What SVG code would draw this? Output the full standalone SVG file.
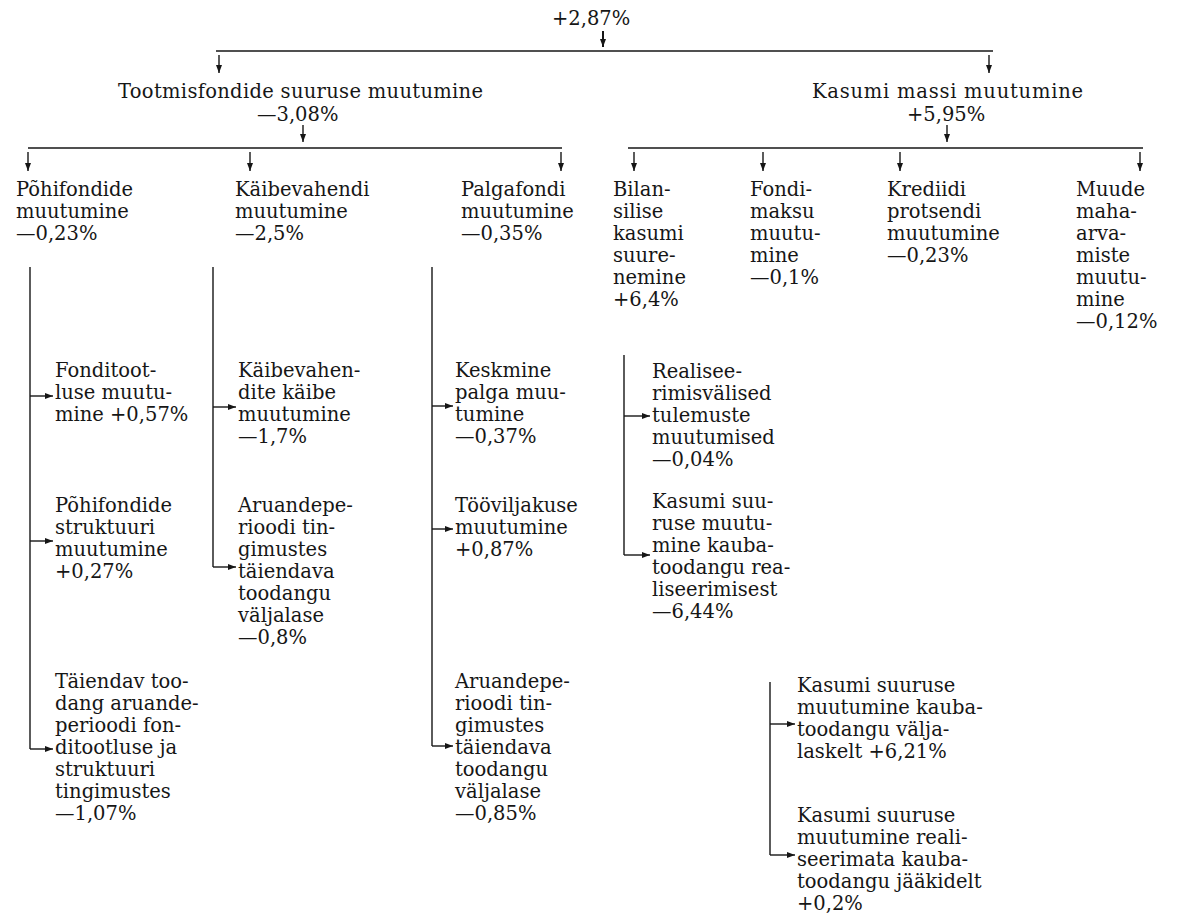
<svg xmlns="http://www.w3.org/2000/svg" width="1180" height="918" viewBox="0 0 1180 918">
<defs>
<style>
text{font-family:"DejaVu Serif","Liberation Serif",serif;font-size:19.5px;fill:#161616}
.c line{stroke:#161616;stroke-width:1.4;fill:none}
.c .a{marker-end:url(#ah)}
</style>
<marker id="ah" markerUnits="userSpaceOnUse" markerWidth="8" markerHeight="6" refX="8" refY="3" orient="auto">
<path d="M0,0 L8,3 L0,6 z" fill="#161616"/>
</marker>
</defs>
<rect width="1180" height="918" fill="#fff"/>
<g class="c" id="connectors">
<line class="a" x1="603" y1="31" x2="603" y2="47" style="stroke-width:2"/>
<line x1="216" y1="51" x2="993" y2="51"/>
<line class="a" x1="219" y1="55" x2="219" y2="73"/>
<line class="a" x1="989" y1="55" x2="989" y2="73"/>
<line class="a" x1="303" y1="125" x2="303" y2="142"/>
<line x1="28" y1="148" x2="562" y2="148"/>
<line class="a" x1="28" y1="152" x2="28" y2="171"/>
<line class="a" x1="250" y1="152" x2="250" y2="171"/>
<line class="a" x1="561" y1="152" x2="561" y2="171"/>
<line class="a" x1="947" y1="125" x2="947" y2="142"/>
<line x1="628" y1="148" x2="1143" y2="148"/>
<line class="a" x1="634" y1="152" x2="634" y2="171"/>
<line class="a" x1="763" y1="152" x2="763" y2="171"/>
<line class="a" x1="900" y1="152" x2="900" y2="171"/>
<line class="a" x1="1140" y1="152" x2="1140" y2="171"/>
<line x1="30" y1="267" x2="30" y2="749"/>
<line class="a" x1="30" y1="396" x2="53" y2="396"/>
<line class="a" x1="30" y1="541" x2="53" y2="541"/>
<line class="a" x1="30" y1="749" x2="53" y2="749"/>
<line x1="213" y1="267" x2="213" y2="567"/>
<line class="a" x1="213" y1="407" x2="236" y2="407"/>
<line class="a" x1="213" y1="567" x2="236" y2="567"/>
<line x1="432" y1="267" x2="432" y2="746"/>
<line class="a" x1="432" y1="406" x2="453" y2="406"/>
<line class="a" x1="432" y1="529" x2="453" y2="529"/>
<line class="a" x1="432" y1="746" x2="453" y2="746"/>
<line x1="624" y1="355" x2="624" y2="555"/>
<line class="a" x1="624" y1="416" x2="650" y2="416"/>
<line class="a" x1="624" y1="555" x2="650" y2="555"/>
<line x1="770" y1="682" x2="770" y2="855"/>
<line class="a" x1="770" y1="724" x2="795" y2="724"/>
<line class="a" x1="770" y1="855" x2="795" y2="855"/>
</g>
<g id="n-root"><text x="552" y="25">+2,87%</text></g>
<g id="n-tootmis"><text x="118" y="98" textLength="365" lengthAdjust="spacing">Tootmisfondide suuruse muutumine</text><text x="257" y="121">—3,08%</text></g>
<g id="n-kasum"><text x="812" y="98" textLength="271" lengthAdjust="spacing">Kasumi massi muutumine</text><text x="907" y="121">+5,95%</text></g>
<g id="n-pohi"><text x="16" y="196">Põhifondide</text><text x="16" y="218">muutumine</text><text x="16" y="240">—0,23%</text></g>
<g id="n-kaibe"><text x="235" y="196">Käibevahendi</text><text x="235" y="218">muutumine</text><text x="235" y="240">—2,5%</text></g>
<g id="n-palga"><text x="461" y="196">Palgafondi</text><text x="461" y="218">muutumine</text><text x="461" y="240">—0,35%</text></g>
<g id="n-bilan"><text x="613" y="196">Bilan-</text><text x="613" y="218">silise</text><text x="613" y="240">kasumi</text><text x="613" y="262">suure-</text><text x="613" y="284">nemine</text><text x="613" y="306">+6,4%</text></g>
<g id="n-fondimaksu"><text x="750" y="196">Fondi-</text><text x="750" y="218">maksu</text><text x="750" y="240">muutu-</text><text x="750" y="262">mine</text><text x="750" y="284">—0,1%</text></g>
<g id="n-krediit"><text x="887" y="196">Krediidi</text><text x="887" y="218">protsendi</text><text x="887" y="240">muutumine</text><text x="887" y="262">—0,23%</text></g>
<g id="n-muude"><text x="1076" y="196">Muude</text><text x="1076" y="218">maha-</text><text x="1076" y="240">arva-</text><text x="1076" y="262">miste</text><text x="1076" y="284">muutu-</text><text x="1076" y="306">mine</text><text x="1076" y="328">—0,12%</text></g>
<g id="n-fonditootlus"><text x="55" y="377">Fonditoot-</text><text x="55" y="399">luse muutu-</text><text x="55" y="421">mine +0,57%</text></g>
<g id="n-pohistruktuur"><text x="55" y="512">Põhifondide</text><text x="55" y="534">struktuuri</text><text x="55" y="556">muutumine</text><text x="55" y="578">+0,27%</text></g>
<g id="n-taiendav"><text x="55" y="688">Täiendav too-</text><text x="55" y="710">dang aruande-</text><text x="55" y="732">perioodi fon-</text><text x="55" y="754">ditootluse ja</text><text x="55" y="776">struktuuri</text><text x="55" y="798">tingimustes</text><text x="55" y="820">—1,07%</text></g>
<g id="n-kaibekaive"><text x="238" y="377">Käibevahen-</text><text x="238" y="399">dite käibe</text><text x="238" y="421">muutumine</text><text x="238" y="443">—1,7%</text></g>
<g id="n-aruande1"><text x="238" y="512">Aruandepe-</text><text x="238" y="534">rioodi tin-</text><text x="238" y="556">gimustes</text><text x="238" y="578">täiendava</text><text x="238" y="600">toodangu</text><text x="238" y="622">väljalase</text><text x="238" y="644">—0,8%</text></g>
<g id="n-keskmine"><text x="455" y="377">Keskmine</text><text x="455" y="399">palga muu-</text><text x="455" y="421">tumine</text><text x="455" y="443">—0,37%</text></g>
<g id="n-toovilj"><text x="455" y="512">Tööviljakuse</text><text x="455" y="534">muutumine</text><text x="455" y="556">+0,87%</text></g>
<g id="n-aruande2"><text x="455" y="688">Aruandepe-</text><text x="455" y="710">rioodi tin-</text><text x="455" y="732">gimustes</text><text x="455" y="754">täiendava</text><text x="455" y="776">toodangu</text><text x="455" y="798">väljalase</text><text x="455" y="820">—0,85%</text></g>
<g id="n-realisee"><text x="652" y="378">Realisee-</text><text x="652" y="400">rimisvälised</text><text x="652" y="422">tulemuste</text><text x="652" y="444">muutumised</text><text x="652" y="466">—0,04%</text></g>
<g id="n-kasumreal"><text x="652" y="508">Kasumi suu-</text><text x="652" y="530">ruse muutu-</text><text x="652" y="552">mine kauba-</text><text x="652" y="574">toodangu rea-</text><text x="652" y="596">liseerimisest</text><text x="652" y="618">—6,44%</text></g>
<g id="n-valjalask"><text x="797" y="692">Kasumi suuruse</text><text x="797" y="714">muutumine kauba-</text><text x="797" y="736">toodangu välja-</text><text x="797" y="758">laskelt +6,21%</text></g>
<g id="n-jaagid"><text x="797" y="822">Kasumi suuruse</text><text x="797" y="844">muutumine reali-</text><text x="797" y="866">seerimata kauba-</text><text x="797" y="888">toodangu jääkidelt</text><text x="797" y="910">+0,2%</text></g>
</svg>
